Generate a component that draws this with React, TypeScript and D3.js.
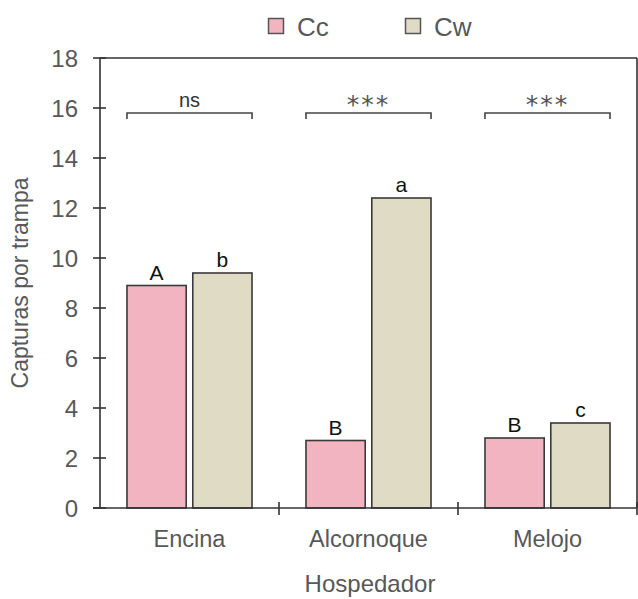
import React from "react";
import * as d3 from "d3";

const categories = ["Encina", "Alcornoque", "Melojo"];
const seriesNames = ["Cc", "Cw"];
const ccValues = [8.9, 2.7, 2.8];
const cwValues = [9.4, 12.4, 3.4];
const ccLetters = ["A", "B", "B"];
const cwLetters = ["b", "a", "c"];
const significance = ["ns", "***", "***"];
const yTicks = [0, 2, 4, 6, 8, 10, 12, 14, 16, 18];
const bracketValue = 15.8;

const W = 638;
const H = 599;
const colors = ["#f2b4c0", "#dfdbc5"];
const font = "'Liberation Sans', Arial, sans-serif";
const gray = "#585858";

export default function App() {
  const left = 100, right = 637, top = 58, bottom = 508;
  const x = d3.scaleBand<string>().domain(categories).range([left, right]).paddingInner(0).paddingOuter(0);
  const inner = d3.scaleBand<string>().domain(seriesNames).range([0, x.bandwidth()]).paddingInner(0.1).paddingOuter(0.41);
  const y = d3.scaleLinear().domain([0, 18]).range([bottom, top]);
  const series = [ccValues, cwValues];
  const letters = [ccLetters, cwLetters];
  const legendX = [268, 405];

  return (
    <svg width={W} height={H} style={{ position: "absolute", left: 0, top: 0, background: "#fff" }} fontFamily={font}>
      {/* legend */}
      {seriesNames.map((s, i) => (
        <g key={s}>
          <rect x={legendX[i] + 0.5} y={18.5} width={15} height={15} fill={colors[i]} stroke="#555" strokeWidth={1.5} />
          <text x={legendX[i] + 29} y={35.5} fontSize={26} fill={gray}>{s}</text>
        </g>
      ))}
      {/* frame */}
      <line x1={left} x2={right} y1={top} y2={top} stroke="#333" strokeWidth={1.6} />
      <line x1={right} x2={right} y1={top} y2={bottom} stroke="#333" strokeWidth={1.6} />
      {/* bars */}
      {categories.map((c, ci) =>
        seriesNames.map((s, si) => {
          const v = series[si][ci];
          const bx = (x(c) as number) + (inner(s) as number);
          return (
            <g key={c + s}>
              <rect x={bx} y={y(v)} width={inner.bandwidth()} height={bottom - y(v)} fill={colors[si]} stroke="#3a3a3a" strokeWidth={1.6} />
              <text x={bx + inner.bandwidth() / 2} y={y(v) - 6} textAnchor="middle" fontSize={21} fill="#111">{letters[si][ci]}</text>
            </g>
          );
        })
      )}
      {/* brackets */}
      {categories.map((c, ci) => {
        const x0 = (x(c) as number) + (inner("Cc") as number);
        const x1 = (x(c) as number) + (inner("Cw") as number) + inner.bandwidth();
        const by = y(bracketValue);
        const isNs = significance[ci] === "ns";
        return (
          <g key={"br" + c}>
            <path d={`M${x0},${by + 6}V${by}H${x1}V${by + 6}`} fill="none" stroke="#444" strokeWidth={1.6} />
            {isNs ? (
              <text x={(x0 + x1) / 2} y={by - 6} textAnchor="middle" fontSize={20} fill="#333">{significance[ci]}</text>
            ) : (
              <text x={(x0 + x1) / 2} y={by} textAnchor="middle" fontSize={25} letterSpacing={2} fontFamily="'DejaVu Sans', sans-serif" fill="#555">{significance[ci]}</text>
            )}
          </g>
        );
      })}
      {/* y axis */}
      <line x1={left} x2={left} y1={top} y2={bottom} stroke="#333" strokeWidth={1.6} />
      {yTicks.map((t) => (
        <g key={t}>
          <line x1={left - 7} x2={left + 6} y1={y(t)} y2={y(t)} stroke="#333" strokeWidth={1.6} />
          <text x={78} y={y(t) + 8.5} textAnchor="end" fontSize={24} fill={gray}>{t}</text>
        </g>
      ))}
      {/* x axis */}
      <line x1={left - 7} x2={right} y1={bottom} y2={bottom} stroke="#333" strokeWidth={1.6} />
      {categories.map((c, ci) => (
        <g key={"xt" + c}>
          {ci > 0 && <line x1={x(c)} x2={x(c)} y1={bottom - 6} y2={bottom + 7} stroke="#333" strokeWidth={1.6} />}
          <text x={(x(c) as number) + x.bandwidth() / 2} y={546.5} textAnchor="middle" fontSize={23.5} fill={gray}>{c}</text>
        </g>
      ))}
      <line x1={right} x2={right} y1={bottom - 6} y2={bottom + 7} stroke="#333" strokeWidth={1.6} />
      <text x={370} y={592} textAnchor="middle" fontSize={24} fill={gray}>Hospedador</text>
      <text transform={`translate(28,${(top + bottom) / 2}) rotate(-90)`} textAnchor="middle" fontSize={23} fill={gray}>Capturas por trampa</text>
    </svg>
  );
}
